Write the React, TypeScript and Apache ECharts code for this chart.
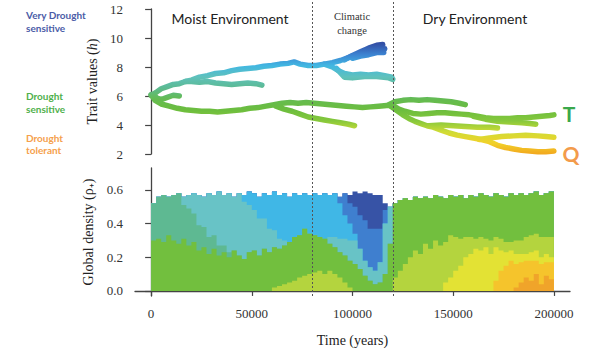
import React, { useEffect, useRef } from 'react';
import * as echarts from 'echarts';

// ---------- Top panel: trait trajectories [time (years), trait value h] ----------
const BRANCH_UPPER: [number, number][] = [
  [0, 6.05], [2500, 6.25], [5000, 6.5], [8000, 6.65], [11000, 6.8], [14000, 6.85], [17000, 7.0],
  [20000, 7.1], [24000, 7.3], [28000, 7.4], [32000, 7.55], [36000, 7.6], [40000, 7.75], [44000, 7.85],
  [48000, 7.9], [52000, 7.95], [56000, 8.05], [60000, 8.1], [64000, 8.2], [68000, 8.25], [71000, 8.35],
  [74000, 8.2], [78000, 8.1], [82000, 8.1], [86000, 8.2], [90000, 8.3], [94000, 8.45], [98000, 8.65],
  [102000, 8.85], [106000, 9.0], [110000, 9.1], [113000, 9.2], [116000, 9.25],
];
const BRANCH_BLOB_HIGH: [number, number][] = [
  [96000, 8.5], [100000, 8.8], [104000, 9.05], [108000, 9.3], [112000, 9.5], [115000, 9.55],
];
const BRANCH_BLOB_LOW: [number, number][] = [
  [100000, 8.6], [104000, 8.75], [108000, 8.85], [112000, 9.0], [115500, 9.0],
];
const BRANCH_TEAL: [number, number][] = [
  [86000, 8.2], [90000, 8.0], [93000, 7.75], [96000, 7.55], [100000, 7.45], [104000, 7.5],
  [108000, 7.45], [112000, 7.5], [116000, 7.4], [119500, 7.3],
];
const BRANCH_TEAL_LOW: [number, number][] = [
  [92000, 7.9], [96000, 7.3], [100000, 7.25], [106000, 7.35], [112000, 7.35], [118000, 7.25], [120000, 7.15],
];
const BRANCH_MOIST_MID: [number, number][] = [
  [17000, 7.0], [20000, 7.0], [24000, 6.95], [28000, 7.0], [32000, 6.9], [36000, 6.85], [40000, 6.8],
  [44000, 6.85], [48000, 6.9], [52000, 6.85], [55000, 6.75],
];
const BRANCH_START_LOOP: [number, number][] = [
  [1000, 6.1], [3000, 5.85], [5000, 5.75], [8000, 5.9], [11000, 6.05], [14000, 6.0],
];
const BRANCH_LOWER: [number, number][] = [
  [0, 6.1], [2000, 5.7], [5000, 5.45], [9000, 5.3], [13000, 5.15], [17000, 5.05], [21000, 5.0],
  [25000, 4.95], [29000, 4.95], [33000, 4.9], [37000, 4.95], [41000, 5.0], [45000, 5.05], [49000, 5.15],
  [53000, 5.2], [57000, 5.3], [61000, 5.4], [65000, 5.5], [69000, 5.55], [73000, 5.5], [77000, 5.55],
  [81000, 5.5], [85000, 5.45], [89000, 5.4], [93000, 5.35], [97000, 5.3], [101000, 5.25], [105000, 5.2],
  [109000, 5.25], [113000, 5.3], [117000, 5.35], [120000, 5.35],
];
const BRANCH_LOWER_DROP: [number, number][] = [
  [62000, 5.3], [66000, 5.1], [70000, 4.95], [74000, 4.75], [78000, 4.55], [82000, 4.45], [86000, 4.35],
  [90000, 4.25], [94000, 4.15], [98000, 4.05], [101000, 3.95],
];
const BRANCH_DRY_TOP: [number, number][] = [
  [118000, 5.4], [121000, 5.6], [125000, 5.7], [129000, 5.75], [133000, 5.7], [137000, 5.75],
  [141000, 5.7], [145000, 5.65], [149000, 5.6], [153000, 5.5], [156000, 5.4],
];
const BRANCH_T: [number, number][] = [
  [120000, 5.35], [123000, 5.1], [126000, 4.95], [130000, 4.8], [134000, 4.75], [138000, 4.8],
  [142000, 4.85], [146000, 4.85], [150000, 4.8], [154000, 4.75], [158000, 4.7], [162000, 4.6],
  [166000, 4.5], [170000, 4.45], [174000, 4.45], [178000, 4.45], [182000, 4.5], [186000, 4.5],
  [190000, 4.55], [194000, 4.6], [198000, 4.65], [200000, 4.7],
];
const BRANCH_T_SUB: [number, number][] = [
  [160000, 4.6], [166000, 4.4], [172000, 4.25], [178000, 4.2], [184000, 4.15], [188000, 4.1], [191000, 4.05],
];
const BRANCH_Q: [number, number][] = [
  [119000, 5.3], [122000, 5.0], [125000, 4.7], [128000, 4.45], [131000, 4.25], [134000, 4.1],
  [137000, 3.95], [140000, 3.85], [144000, 3.65], [148000, 3.45], [152000, 3.3], [156000, 3.2],
  [160000, 3.1], [164000, 3.0], [168000, 2.85], [172000, 2.6], [176000, 2.45], [180000, 2.35],
  [184000, 2.25], [188000, 2.2], [192000, 2.15], [196000, 2.15], [200000, 2.2],
];
const BRANCH_Q_UPPER: [number, number][] = [
  [138000, 3.95], [144000, 4.0], [150000, 3.95], [156000, 3.9], [162000, 3.85], [168000, 3.85], [172000, 3.8],
];
const BRANCH_Q_YELLOW: [number, number][] = [
  [163000, 3.0], [168000, 3.1], [174000, 3.2], [180000, 3.25], [186000, 3.3], [192000, 3.25],
  [196000, 3.2], [200000, 3.15],
];

const TRAIT_BRANCHES = [
  BRANCH_UPPER, BRANCH_BLOB_HIGH, BRANCH_BLOB_LOW, BRANCH_TEAL, BRANCH_TEAL_LOW, BRANCH_MOIST_MID,
  BRANCH_START_LOOP, BRANCH_LOWER, BRANCH_LOWER_DROP, BRANCH_DRY_TOP, BRANCH_T, BRANCH_T_SUB,
  BRANCH_Q, BRANCH_Q_UPPER, BRANCH_Q_YELLOW,
];

const TRAIT_COLORS = [
  '#f2a81e', '#f1d22a', '#cfdc36', '#86c83c', '#6cbd3e', '#64bb52',
  '#5cba92', '#5fc1bc', '#42b8e2', '#3c84d2', '#3350a6',
];

// ---------- Bottom panel: global density by trait class (layer thickness) ----------
const TIME = [
  0, 2500, 5000, 7500, 10000, 12500, 15000, 17500, 20000, 22500,
  25000, 27500, 30000, 32500, 35000, 37500, 40000, 42500, 45000, 47500,
  50000, 52500, 55000, 57500, 60000, 62500, 65000, 67500, 70000, 72500,
  75000, 77500, 80000, 82500, 85000, 87500, 90000, 92500, 95000, 97500,
  100000, 102500, 105000, 107500, 110000, 112500, 115000, 117500, 120000, 122500,
  125000, 127500, 130000, 132500, 135000, 137500, 140000, 142500, 145000, 147500,
  150000, 152500, 155000, 157500, 160000, 162500, 165000, 167500, 170000, 172500,
  175000, 177500, 180000, 182500, 185000, 187500, 190000, 192500, 195000, 197500,
  200000,
];
const D_DARK_ORANGE = [
  0, 0, 0, 0, 0, 0, 0, 0, 0, 0, 0, 0, 0, 0, 0, 0, 0, 0, 0, 0,
  0, 0, 0, 0, 0, 0, 0, 0, 0, 0, 0, 0, 0, 0, 0, 0, 0, 0, 0, 0,
  0, 0, 0, 0, 0, 0, 0, 0, 0, 0, 0, 0, 0, 0, 0, 0, 0, 0, 0, 0,
  0, 0, 0, 0, 0, 0, 0, 0, 0, 0, 0, 0, 0.02, 0.05, 0.08, 0.06, 0.10, 0.04, 0.09, 0.07,
  0.05,
];
const D_ORANGE = [
  0, 0, 0, 0, 0, 0, 0, 0, 0, 0, 0, 0, 0, 0, 0, 0, 0, 0, 0, 0,
  0, 0, 0, 0, 0, 0, 0, 0, 0, 0, 0, 0, 0, 0, 0, 0, 0, 0, 0, 0,
  0, 0, 0, 0, 0, 0, 0, 0, 0, 0, 0, 0, 0, 0, 0, 0, 0, 0, 0, 0,
  0, 0, 0, 0, 0, 0, 0, 0, 0.06, 0.12, 0.15, 0.18, 0.14, 0.12, 0.10, 0.12, 0.08, 0.12, 0.08, 0.10,
  0.10,
];
const D_YELLOW = [
  0, 0, 0, 0, 0, 0, 0, 0, 0, 0, 0, 0, 0, 0, 0, 0, 0, 0, 0, 0,
  0, 0, 0, 0, 0, 0, 0, 0, 0, 0, 0, 0, 0, 0, 0, 0, 0, 0, 0, 0,
  0, 0, 0, 0, 0, 0, 0, 0, 0, 0, 0, 0, 0, 0, 0, 0, 0, 0, 0.05, 0.08,
  0.12, 0.15, 0.20, 0.22, 0.25, 0.24, 0.26, 0.22, 0.20, 0.12, 0.08, 0.06, 0.06, 0.05, 0.04, 0.05, 0.06, 0.04, 0.05, 0.03,
  0.04,
];
const D_YELLOW_GREEN = [
  0, 0, 0, 0, 0, 0, 0, 0, 0, 0, 0, 0, 0, 0, 0, 0, 0, 0, 0, 0,
  0, 0, 0, 0, 0.02, 0.03, 0.04, 0.05, 0.06, 0.08, 0.09, 0.10, 0.11, 0.12, 0.10, 0.12, 0.10, 0.08, 0.05, 0.02,
  0, 0, 0, 0, 0, 0, 0, 0, 0.08, 0.12, 0.16, 0.20, 0.24, 0.22, 0.28, 0.25, 0.30, 0.27, 0.24, 0.25,
  0.20, 0.16, 0.12, 0.10, 0.06, 0.08, 0.05, 0.08, 0.06, 0.07, 0.06, 0.05, 0.08, 0.08, 0.10, 0.10, 0.10, 0.12, 0.10, 0.12,
  0.12,
];
const D_GREEN = [
  0.30, 0.31, 0.29, 0.33, 0.30, 0.28, 0.31, 0.27, 0.29, 0.24,
  0.26, 0.22, 0.25, 0.21, 0.23, 0.20, 0.24, 0.21, 0.19, 0.23,
  0.24, 0.21, 0.25, 0.23, 0.24, 0.22, 0.23, 0.24, 0.26, 0.25,
  0.28, 0.24, 0.22, 0.20, 0.21, 0.16, 0.16, 0.15, 0.16, 0.16,
  0.16, 0.13, 0.09, 0.06, 0.04, 0.05, 0.10, 0.28, 0.44, 0.42,
  0.39, 0.34, 0.32, 0.33, 0.28, 0.30, 0.27, 0.29, 0.26, 0.24,
  0.24, 0.26, 0.23, 0.25, 0.25, 0.26, 0.26, 0.26, 0.26, 0.26,
  0.27, 0.29, 0.27, 0.28, 0.25, 0.25, 0.25, 0.25, 0.26, 0.27,
  0.26,
];
const D_TEAL_GREEN = [
  0.22, 0.25, 0.28, 0.23, 0.27, 0.30, 0.20, 0.22, 0.17, 0.15, 0.12, 0.10, 0.08, 0.06, 0.04, 0.03, 0, 0, 0, 0,
  0, 0, 0, 0, 0, 0, 0, 0, 0, 0, 0, 0, 0, 0, 0, 0, 0, 0, 0, 0,
  0, 0, 0, 0, 0, 0, 0, 0, 0, 0, 0, 0, 0, 0, 0, 0, 0, 0, 0, 0,
  0, 0, 0, 0, 0, 0, 0, 0, 0, 0, 0, 0, 0, 0, 0, 0, 0, 0, 0, 0,
  0,
];
const D_LIGHT_TEAL = [
  0, 0, 0, 0, 0, 0, 0.05, 0.08, 0.12, 0.18, 0.18, 0.26, 0.24, 0.32, 0.30, 0.35, 0.32, 0.37, 0.34, 0.28,
  0.24, 0.22, 0.18, 0.14, 0.10, 0.06, 0.03, 0, 0, 0, 0, 0, 0, 0, 0, 0.04, 0.06, 0.08, 0.10, 0.12,
  0.14, 0.12, 0.09, 0.08, 0.08, 0.12, 0.30, 0.22, 0, 0, 0, 0, 0, 0, 0, 0, 0, 0, 0, 0,
  0, 0, 0, 0, 0, 0, 0, 0, 0, 0, 0, 0, 0, 0, 0, 0, 0, 0, 0, 0,
  0,
];
const D_LIGHT_BLUE = [
  0, 0, 0, 0, 0, 0, 0, 0, 0, 0, 0, 0, 0, 0, 0, 0, 0, 0, 0.04, 0.08,
  0.10, 0.13, 0.15, 0.20, 0.23, 0.26, 0.28, 0.27, 0.26, 0.24, 0.21, 0.23, 0.25, 0.25, 0.27, 0.25, 0.26, 0.21, 0.14, 0.10,
  0.04, 0, 0, 0, 0, 0, 0, 0, 0, 0, 0, 0, 0, 0, 0, 0, 0, 0, 0, 0,
  0, 0, 0, 0, 0, 0, 0, 0, 0, 0, 0, 0, 0, 0, 0, 0, 0, 0, 0, 0,
  0,
];
const D_BLUE = [
  0, 0, 0, 0, 0, 0, 0, 0, 0, 0, 0, 0, 0, 0, 0, 0, 0, 0, 0, 0,
  0, 0, 0, 0, 0, 0, 0, 0, 0, 0, 0, 0, 0, 0, 0, 0, 0, 0.04, 0.13, 0.12,
  0.16, 0.20, 0.24, 0.23, 0.25, 0.20, 0.08, 0, 0, 0, 0, 0, 0, 0, 0, 0, 0, 0, 0, 0,
  0, 0, 0, 0, 0, 0, 0, 0, 0, 0, 0, 0, 0, 0, 0, 0, 0, 0, 0, 0,
  0,
];
const D_DARK_BLUE = [
  0, 0, 0, 0, 0, 0, 0, 0, 0, 0, 0, 0, 0, 0, 0, 0, 0, 0, 0, 0,
  0, 0, 0, 0, 0, 0, 0, 0, 0, 0, 0, 0, 0, 0, 0, 0, 0, 0, 0, 0.05,
  0.09, 0.13, 0.17, 0.21, 0.20, 0.20, 0.04, 0, 0, 0, 0, 0, 0, 0, 0, 0, 0, 0, 0, 0,
  0, 0, 0, 0, 0, 0, 0, 0, 0, 0, 0, 0, 0, 0, 0, 0, 0, 0, 0, 0,
  0,
];

// bottom-to-top order
const DENSITY_LAYERS: { name: string; values: number[]; color: string }[] = [
  { name: 'dark orange', values: D_DARK_ORANGE, color: '#f0a42a' },
  { name: 'orange', values: D_ORANGE, color: '#f5c42c' },
  { name: 'yellow', values: D_YELLOW, color: '#e3e234' },
  { name: 'yellow green', values: D_YELLOW_GREEN, color: '#b4d43e' },
  { name: 'green', values: D_GREEN, color: '#72bf3e' },
  { name: 'teal green', values: D_TEAL_GREEN, color: '#5eb992' },
  { name: 'light teal', values: D_LIGHT_TEAL, color: '#68c3c6' },
  { name: 'light blue', values: D_LIGHT_BLUE, color: '#40b7e6' },
  { name: 'blue', values: D_BLUE, color: '#3f7fcf' },
  { name: 'dark blue', values: D_DARK_BLUE, color: '#3753a6' },
];

const X_TICKS = [0, 50000, 100000, 150000, 200000];
const DENSITY_TICKS = [0, 0.2, 0.4, 0.6];
const CLIMATE_CHANGE = [80000, 120000];

const SERIF = 'Liberation Serif';
const SANS = 'Lato';
const AXIS_COLOR = '#444';

export default function App() {
  const ref = useRef<HTMLDivElement>(null);
  useEffect(() => {
    const chart = echarts.init(ref.current!, null, { renderer: 'svg' });

    const traitSeries = TRAIT_BRANCHES.map((b) => ({
      type: 'line',
      xAxisIndex: 0,
      yAxisIndex: 0,
      data: b,
      symbol: 'none',
      silent: true,
      z: 3,
      lineStyle: { width: 5.5, cap: 'round', join: 'round' },
    }));

    // cumulative upper boundary of each layer (stack computed here, drawn top layer first)
    const running = TIME.map(() => 0);
    const cumulative = DENSITY_LAYERS.map((l) => {
      const tops = l.values.map((v, i) => (running[i] = running[i] + v));
      return { ...l, tops: tops.map((v) => Math.round(v * 1000) / 1000) };
    });
    const densitySeries = cumulative
      .slice()
      .reverse()
      .map((l) => ({
        type: 'line',
        name: l.name,
        xAxisIndex: 1,
        yAxisIndex: 1,
        step: 'end',
        symbol: 'none',
        silent: true,
        data: TIME.map((t, i) => [t, l.tops[i]]),
        lineStyle: { width: 0 },
        itemStyle: { color: l.color },
        areaStyle: { color: l.color, opacity: 1 },
      }));

    const axisLabelBase = { fontFamily: SERIF, fontSize: 13, color: '#333' };

    chart.setOption({
      animation: false,
      backgroundColor: '#fff',
      grid: [
        { left: 135, right: 30, top: 9, height: 145, outerBoundsMode: 'none' },
        { left: 135, right: 30, top: 168, height: 128, outerBoundsMode: 'none' },
        { left: 135, right: 30, top: 0, height: 296, outerBoundsMode: 'none' },
      ],
      xAxis: [
        { type: 'value', gridIndex: 0, min: -8000, max: 208000, show: false },
        {
          type: 'value', gridIndex: 1, min: -8000, max: 208000,
          axisLine: { show: true, lineStyle: { color: AXIS_COLOR, width: 1.3 } },
          axisTick: { show: true, customValues: X_TICKS, length: 5, lineStyle: { color: AXIS_COLOR, width: 1.2 } },
          axisLabel: { ...axisLabelBase, customValues: X_TICKS, margin: 11, formatter: (v: number) => String(v) },
          splitLine: { show: false },
          name: 'Time (years)', nameLocation: 'middle', nameGap: 37,
          nameTextStyle: { fontFamily: SERIF, fontSize: 14, color: '#222' },
        },
        { type: 'value', gridIndex: 2, min: -8000, max: 208000, show: false },
      ],
      yAxis: [
        {
          type: 'value', gridIndex: 0, min: 2, max: 12, interval: 2,
          axisLine: { show: true, lineStyle: { color: AXIS_COLOR, width: 1.3 } },
          axisTick: { show: true, length: 6, lineStyle: { color: AXIS_COLOR, width: 1.2 } },
          axisLabel: { ...axisLabelBase, margin: 12 },
          splitLine: { show: false },
          name: 'Trait values ({i|h})', nameLocation: 'middle', nameGap: 36,
          nameTextStyle: {
            fontFamily: SERIF, fontSize: 14, color: '#222',
            rich: { i: { fontFamily: SERIF, fontSize: 14, fontStyle: 'italic', color: '#222' } },
          },
        },
        {
          type: 'value', gridIndex: 1, min: -0.03, max: 0.73,
          axisLine: { show: true, lineStyle: { color: AXIS_COLOR, width: 1.3 } },
          axisTick: { show: true, customValues: DENSITY_TICKS, length: 6, lineStyle: { color: AXIS_COLOR, width: 1.2 } },
          axisLabel: { ...axisLabelBase, customValues: DENSITY_TICKS, margin: 12, formatter: (v: number) => v.toFixed(1) },
          splitLine: { show: false },
          name: 'Global density (ρ₊)', nameLocation: 'middle', nameGap: 36,
          nameTextStyle: { fontFamily: SERIF, fontSize: 14, color: '#222' },
        },
        { type: 'value', gridIndex: 2, min: 0, max: 1, show: false },
      ],
      visualMap: {
        type: 'continuous',
        show: false,
        seriesIndex: traitSeries.map((_, i) => i),
        dimension: 1,
        min: 2,
        max: 9.6,
        inRange: { color: TRAIT_COLORS },
      },
      series: [
        ...traitSeries,
        ...densitySeries,
        {
          type: 'line',
          xAxisIndex: 2,
          yAxisIndex: 2,
          data: CLIMATE_CHANGE.map((t) => [t, 0]),
          symbol: 'none',
          silent: true,
          lineStyle: { opacity: 0 },
          z: 5,
          markLine: {
            silent: true,
            symbol: ['none', 'none'],
            label: { show: false },
            lineStyle: { type: [2, 2], color: '#555', width: 1 },
            data: CLIMATE_CHANGE.map((t) => ({ xAxis: t })),
          },
        },
      ],
      graphic: [
        { type: 'text', x: 230, y: 18, style: { text: 'Moist Environment', font: `14px ${SANS}`, fill: '#222', align: 'center', verticalAlign: 'middle' } },
        { type: 'text', x: 475, y: 18, style: { text: 'Dry Environment', font: `14px ${SANS}`, fill: '#222', align: 'center', verticalAlign: 'middle' } },
        { type: 'text', x: 352, y: 16, style: { text: 'Climatic', font: `10.5px ${SERIF}`, fill: '#333', align: 'center', verticalAlign: 'middle' } },
        { type: 'text', x: 352, y: 30, style: { text: 'change', font: `10.5px ${SERIF}`, fill: '#333', align: 'center', verticalAlign: 'middle' } },
        { type: 'text', x: 26, y: 15, style: { text: 'Very Drought', font: `bold 10px ${SANS}`, fill: '#4b5ca7', align: 'left', verticalAlign: 'middle' } },
        { type: 'text', x: 26, y: 28, style: { text: 'sensitive', font: `bold 10px ${SANS}`, fill: '#4b5ca7', align: 'left', verticalAlign: 'middle' } },
        { type: 'text', x: 26, y: 96, style: { text: 'Drought', font: `bold 10px ${SANS}`, fill: '#4fb04c', align: 'left', verticalAlign: 'middle' } },
        { type: 'text', x: 26, y: 109, style: { text: 'sensitive', font: `bold 10px ${SANS}`, fill: '#4fb04c', align: 'left', verticalAlign: 'middle' } },
        { type: 'text', x: 26, y: 138, style: { text: 'Drought', font: `bold 10px ${SANS}`, fill: '#f5a04c', align: 'left', verticalAlign: 'middle' } },
        { type: 'text', x: 26, y: 150, style: { text: 'tolerant', font: `bold 10px ${SANS}`, fill: '#f5a04c', align: 'left', verticalAlign: 'middle' } },
        { type: 'text', x: 569, y: 113, style: { text: 'T', font: `bold 21px ${SANS}`, fill: '#3aa84b', align: 'center', verticalAlign: 'middle' } },
        { type: 'text', x: 571, y: 153, style: { text: 'Q', font: `bold 21px ${SANS}`, fill: '#f39b4b', align: 'center', verticalAlign: 'middle' } },
      ],
    });
    return () => chart.dispose();
  }, []);
  return <div ref={ref} style={{ position: 'absolute', left: 0, top: 0, width: 600, height: 357 }} />;
}
